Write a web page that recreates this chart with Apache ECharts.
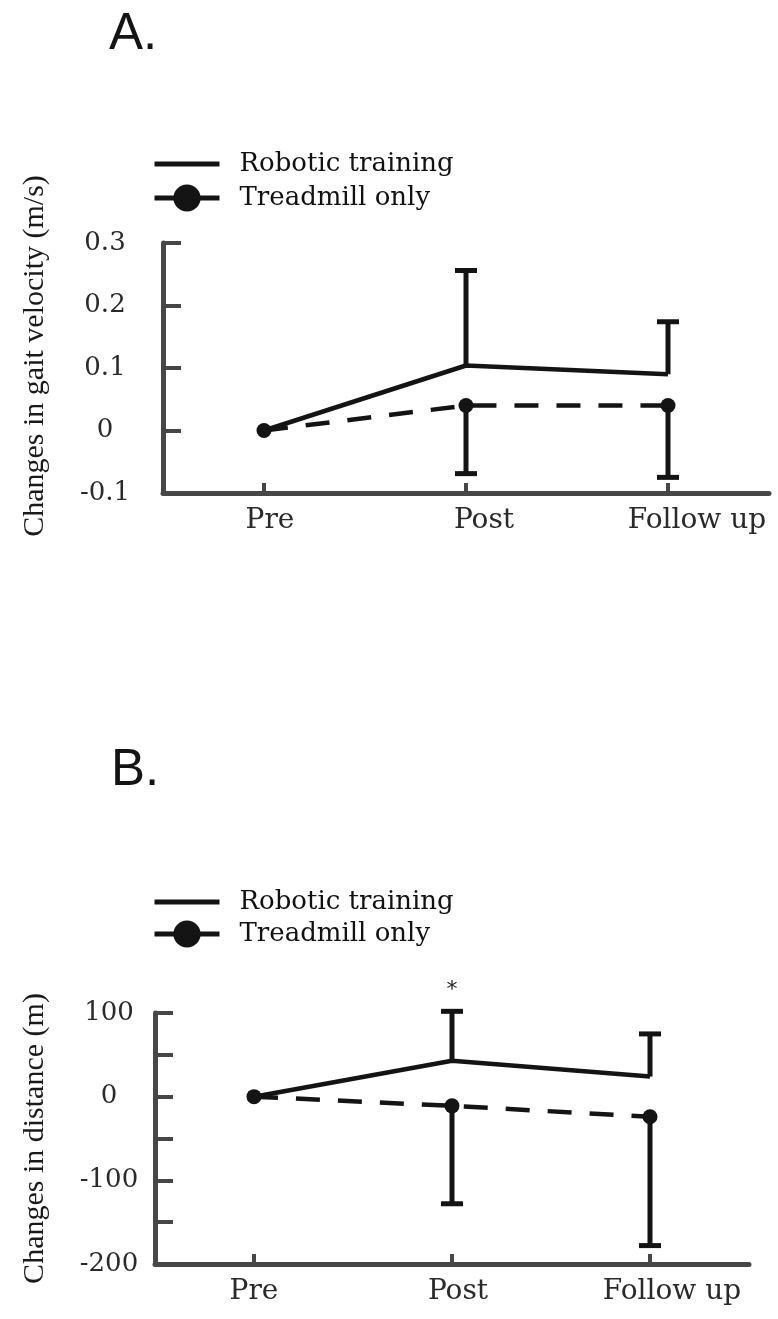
<!DOCTYPE html>
<html><head><meta charset="utf-8">
<script src="https://cdn.jsdelivr.net/npm/echarts@6/dist/echarts.min.js"></script>
<style>html,body{margin:0;padding:0;background:#fff}#c{width:778px;height:1319px}</style>
</head><body><div id="c"></div>
<script>
// ---- data ----
const categories = ['Pre', 'Post', 'Follow up'];
const seriesNames = ['Robotic training', 'Treadmill only'];

// Panel A: changes in gait velocity (m/s)
const velRobotic = [0, 0.104, 0.09];
const velRoboticUpper = [null, 0.256, 0.174];
const velTreadmill = [0, 0.04, 0.04];
const velTreadmillLower = [null, -0.069, -0.075];
const velTickLabels = ['-0.1', '0', '0.1', '0.2', '0.3'];

// Panel B: changes in distance (m)
const distRobotic = [0, 43, 24];
const distRoboticUpper = [null, 102, 75];
const distTreadmill = [0, -11, -24];
const distTreadmillLower = [null, -128, -178];
const distSignificance = ['', '*', ''];
const distTickLabels = ['-200', '-100', '0', '100'];

// ---- helpers ----
const INK = '#141414';
const AXIS = '#474747';
function errData(mean, bound) {
  const out = [];
  bound.forEach((b, i) => { if (b !== null) out.push([i, mean[i], b]); });
  return out;
}
function errorBar(params, api) {
  const x = api.value(0), m = api.value(1), b = api.value(2);
  const p0 = api.coord([x, m]);
  const p1 = api.coord([x, b]);
  const half = 11;
  return {
    type: 'group',
    children: [
      { type: 'line', shape: { x1: p0[0], y1: p0[1], x2: p1[0], y2: p1[1] }, style: { stroke: INK, lineWidth: 5 } },
      { type: 'line', shape: { x1: p1[0] - half, y1: p1[1], x2: p1[0] + half, y2: p1[1] }, style: { stroke: INK, lineWidth: 5 } }
    ]
  };
}
const sigData = [];
distSignificance.forEach((s, i) => { if (s) sigData.push([i, distRoboticUpper[i]]); });
const sigText = distSignificance.filter(s => s);
function sigMark(params, api) {
  const p = api.coord([api.value(0), api.value(1)]);
  return {
    type: 'text',
    style: { text: sigText[params.dataIndex], x: p[0], y: p[1] - 21, align: 'center', verticalAlign: 'middle',
      fontFamily: 'DejaVu Sans', fontSize: 22, fill: '#222' }
  };
}
function tickFmt(labels, min, step) {
  return v => { const k = Math.round((v - min) / step); return labels[k] !== undefined ? labels[k] : ''; };
}

const serif = 'DejaVu Serif';
const axisLabelStyle = { fontFamily: serif, fontSize: 26, color: '#2a2a2a' };

function xAxis(gridIndex, shifts) {
  const rich = {};
  shifts.forEach((s, i) => {
    rich['c' + i] = { fontFamily: serif, fontSize: 28, color: '#2a2a2a', padding: [0, 0, 0, s] };
  });
  return {
    type: 'category', gridIndex, data: categories, boundaryGap: true,
    axisLine: { show: true, onZero: false, lineStyle: { color: AXIS, width: 5 } },
    axisTick: { show: true, inside: true, alignWithLabel: true, interval: 0, length: 10, lineStyle: { color: AXIS, width: 4 } },
    axisLabel: { fontFamily: serif, fontSize: 28, color: '#2a2a2a', margin: 14, interval: 0, hideOverlap: false,
      formatter: (v, i) => '{c' + i + '|' + v + '}', rich },
    splitLine: { show: false }
  };
}

function legend(top, gap) {
  return {
    orient: 'vertical', left: 147, top, itemWidth: 65, itemHeight: 34, itemGap: gap,
    data: [{ name: seriesNames[0], itemStyle: { opacity: 0 } }, { name: seriesNames[1] }],
    selectedMode: false,
    lineStyle: { type: 'solid', width: 5 },
    textStyle: { fontFamily: serif, fontSize: 26, color: '#111', padding: [0, 0, 0, 15], lineHeight: 30 }
  };
}

const option = {
  backgroundColor: '#fff',
  animation: false,
  title: [
    { text: 'A.', left: 109, top: 9, padding: 0, textStyle: { fontFamily: 'Liberation Sans', fontSize: 51, fontWeight: 'normal', color: INK } },
    { text: 'B.', left: 111, top: 745, padding: 0, textStyle: { fontFamily: 'Liberation Sans', fontSize: 51, fontWeight: 'normal', color: INK } }
  ],
  legend: [legend(144, 4), legend(882, 2)],
  grid: [
    { left: 163, top: 243, width: 606, height: 250 },
    { left: 155, top: 1013, width: 594, height: 251 }
  ],
  xAxis: [xAxis(0, [12, 36, 58]), xAxis(1, [0, 12, 44])],
  yAxis: [
    {
      type: 'value', gridIndex: 0, min: -0.1, max: 0.3, interval: 0.1,
      name: 'Changes in gait velocity (m/s)', nameLocation: 'middle', nameGap: 113,
      nameTextStyle: { fontFamily: 'Liberation Serif', fontSize: 30, color: '#1a1a1a', padding: [0, 0, 0, 24] },
      axisLine: { show: true, lineStyle: { color: AXIS, width: 5 } },
      axisTick: { show: true, inside: true, length: 18, lineStyle: { color: AXIS, width: 4 } },
      axisLabel: { ...axisLabelStyle, margin: 58, align: 'center', formatter: tickFmt(velTickLabels, -0.1, 0.1) },
      splitLine: { show: false }
    },
    {
      type: 'value', gridIndex: 1, min: -200, max: 100, interval: 100,
      name: 'Changes in distance (m)', nameLocation: 'middle', nameGap: 105,
      nameTextStyle: { fontFamily: 'Liberation Serif', fontSize: 30, color: '#1a1a1a' },
      axisLine: { show: true, lineStyle: { color: AXIS, width: 5 } },
      axisTick: { show: true, inside: true, length: 18, lineStyle: { color: AXIS, width: 4 } },
      minorTick: { show: true, splitNumber: 2, length: 18, lineStyle: { color: AXIS, width: 4 } },
      axisLabel: { ...axisLabelStyle, margin: 46, align: 'center', formatter: tickFmt(distTickLabels, -200, 100) },
      splitLine: { show: false }
    }
  ],
  series: [
    { name: seriesNames[0], type: 'line', xAxisIndex: 0, yAxisIndex: 0, data: velRobotic, symbol: 'none',
      lineStyle: { color: INK, width: 4.5, type: 'solid' }, itemStyle: { color: INK }, z: 3 },
    { name: seriesNames[1], type: 'line', xAxisIndex: 0, yAxisIndex: 0, data: velTreadmill, symbol: 'circle', symbolSize: 15,
      lineStyle: { color: INK, width: 4.5, type: [24, 18] }, itemStyle: { color: INK }, z: 3 },
    { type: 'custom', xAxisIndex: 0, yAxisIndex: 0, data: errData(velRobotic, velRoboticUpper), renderItem: errorBar, z: 4 },
    { type: 'custom', xAxisIndex: 0, yAxisIndex: 0, data: errData(velTreadmill, velTreadmillLower), renderItem: errorBar, z: 4 },

    { name: seriesNames[0], type: 'line', xAxisIndex: 1, yAxisIndex: 1, data: distRobotic, symbol: 'none',
      lineStyle: { color: INK, width: 4.5, type: 'solid' }, itemStyle: { color: INK }, z: 3 },
    { name: seriesNames[1], type: 'line', xAxisIndex: 1, yAxisIndex: 1, data: distTreadmill, symbol: 'circle', symbolSize: 15,
      lineStyle: { color: INK, width: 4.5, type: [24, 18] }, itemStyle: { color: INK }, z: 3 },
    { type: 'custom', xAxisIndex: 1, yAxisIndex: 1, data: errData(distRobotic, distRoboticUpper), renderItem: errorBar, z: 4 },
    { type: 'custom', xAxisIndex: 1, yAxisIndex: 1, data: errData(distTreadmill, distTreadmillLower), renderItem: errorBar, z: 4 },
    { type: 'custom', xAxisIndex: 1, yAxisIndex: 1, data: sigData, renderItem: sigMark, z: 5 }
  ]
};
const chart = echarts.init(document.getElementById('c'), null, { renderer: 'canvas' });
chart.setOption(option);
</script>
</body></html>
